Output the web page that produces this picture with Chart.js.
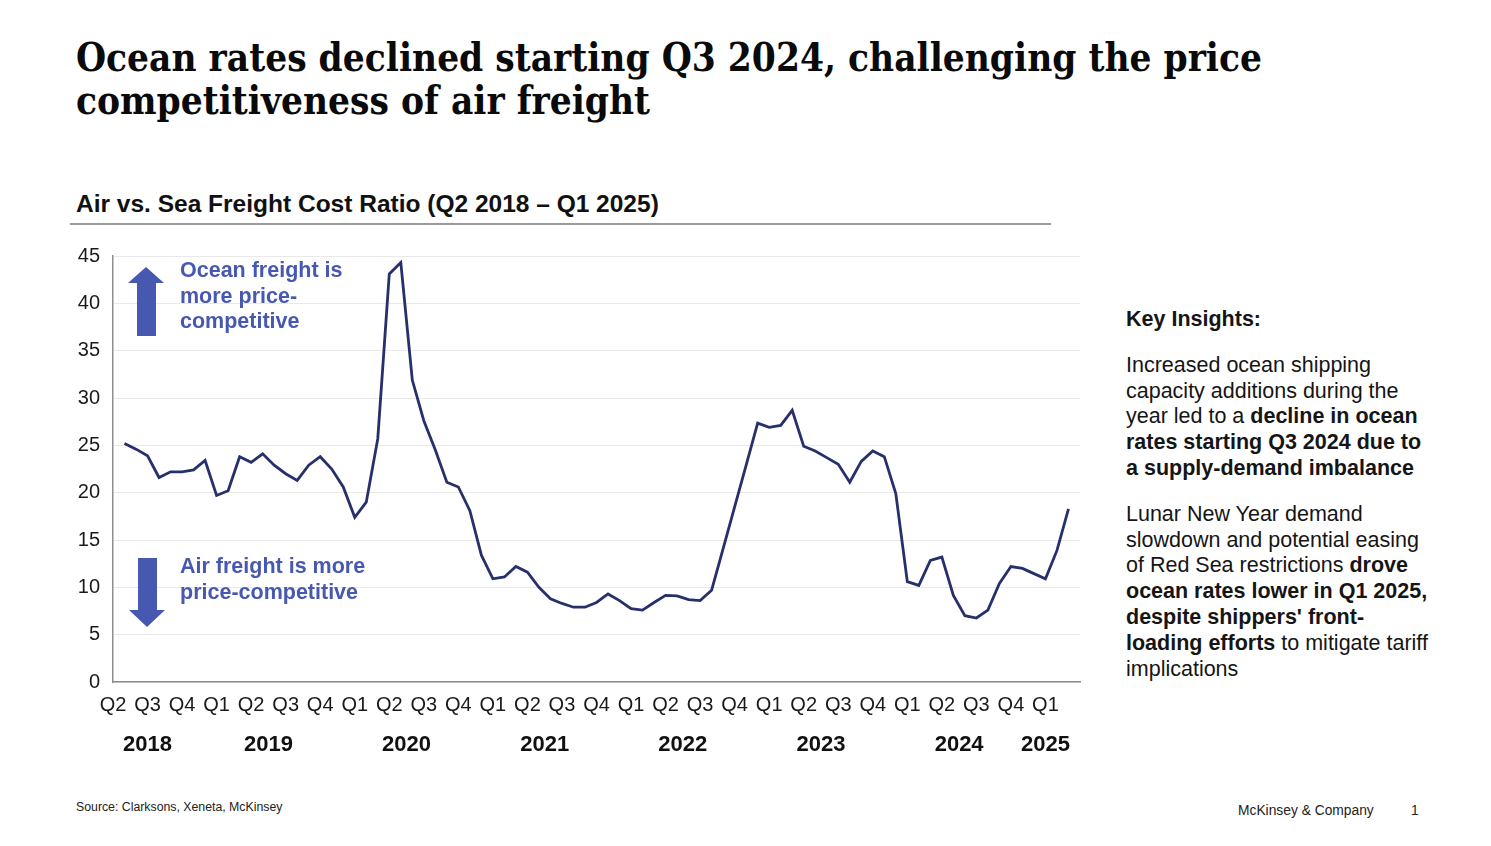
<!DOCTYPE html>
<html>
<head>
<meta charset="utf-8">
<script src="https://cdn.jsdelivr.net/npm/chart.js@4.4.1/dist/chart.umd.min.js"></script>
<style>
  body { margin: 0; background: #fff; font-family: "Liberation Sans", Arial, sans-serif; color: #111; }
  #page { position: relative; width: 1491px; height: 846px; overflow: hidden; }
  #title { position: absolute; left: 76px; top: 36px; font-family: "DejaVu Serif", Georgia, serif; font-weight: bold;
           font-size: 39px; line-height: 43px; white-space: nowrap; transform-origin: 0 0; color: #0a0a0a; }
  #subtitle { position: absolute; left: 76px; top: 190px; font-size: 24.5px; font-weight: bold; white-space: nowrap; }
  #rule { position: absolute; left: 70px; top: 223px; width: 981px; height: 2px; background: #9a9a9a; }
  #wrap { position: absolute; left: 0; top: 231px; width: 1100px; height: 549px; }
  .note { position: absolute; left: 180px; color: #4658b0; font-weight: bold; font-size: 21.5px; line-height: 25.5px; white-space: nowrap; }
  .shaft { position: absolute; background: #4658b0; }
  .head { position: absolute; width: 0; height: 0; border-left: 18.5px solid transparent; border-right: 18.5px solid transparent; }
  #insights { position: absolute; left: 1126px; top: 307px; font-size: 21.5px; line-height: 25.8px; color: #151515; white-space: nowrap; }
  #insights p { margin: 0 0 20px 0; }
  #source { position: absolute; left: 76px; top: 800px; font-size: 12.3px; color: #222; }
  #brand { position: absolute; left: 1238px; top: 803px; font-size: 13.8px; color: #222; }
  #pnum { position: absolute; left: 1411px; top: 803px; font-size: 13.8px; color: #222; }
</style>
</head>
<body>
<div id="page">
  <div id="title">Ocean rates declined starting Q3 2024, challenging the price<br>competitiveness of air freight</div>
  <div id="subtitle">Air vs. Sea Freight Cost Ratio (Q2 2018 – Q1 2025)</div>
  <div id="rule"></div>

  <div id="wrap"><canvas id="ratioChart"></canvas></div>

  <!-- up arrow + note -->
  <div class="head" style="left:128px; top:267px; border-bottom:16px solid #4658b0;"></div>
  <div class="shaft" style="left:137px; top:282px; width:19px; height:54px;"></div>
  <div class="note" style="top:258px;">Ocean freight is<br>more price-<br>competitive</div>

  <!-- down arrow + note -->
  <div class="shaft" style="left:138px; top:558px; width:19px; height:53px;"></div>
  <div class="head" style="left:129px; top:610px; border-top:17px solid #4658b0;"></div>
  <div class="note" style="top:554px;">Air freight is more<br>price-competitive</div>

  <div id="insights">
    <p style="font-weight:bold; margin-bottom:20px;">Key Insights:</p>
    <p>Increased ocean shipping<br>capacity additions during the<br>year led to a <b>decline in ocean<br>rates starting Q3 2024 due to<br>a supply-demand imbalance</b></p>
    <p>Lunar New Year demand<br>slowdown and potential easing<br>of Red Sea restrictions <b>drove<br>ocean rates lower in Q1 2025,<br>despite shippers' front-<br>loading efforts</b> to mitigate tariff<br>implications</p>
  </div>

  <div id="source">Source: Clarksons, Xeneta, McKinsey</div>
  <div id="brand">McKinsey &amp; Company</div>
  <div id="pnum">1</div>
</div>

<script>
// monthly air/sea cost ratio, Apr 2018 .. Feb 2025
const ratio = [
  25.2, 24.6, 23.9, 21.6, 22.2, 22.2, 22.4, 23.4, 19.7, 20.2,
  23.8, 23.2, 24.1, 22.9, 22.0, 21.3, 22.9, 23.8, 22.5, 20.6,
  17.4, 19.0, 25.7, 43.1, 44.3, 31.9, 27.6, 24.5, 21.1, 20.6,
  18.1, 13.4, 10.9, 11.1, 12.2, 11.6, 10.0, 8.8, 8.3, 7.9,
  7.9, 8.4, 9.3, 8.6, 7.75, 7.6, 8.4, 9.15, 9.1, 8.7,
  8.6, 9.7, 14.1, 18.5, 22.9, 27.35, 26.9, 27.1, 28.7, 24.9,
  24.4, 23.7, 23.0, 21.1, 23.3, 24.4, 23.8, 19.9, 10.6, 10.2,
  12.85, 13.2, 9.15, 7.0, 6.76, 7.6, 10.4, 12.2, 12.0, 11.45,
  10.9, 13.9, 18.3
];

const quarterLabels = [
  "Q2", "Q3", "Q4",
  "Q1", "Q2", "Q3", "Q4",
  "Q1", "Q2", "Q3", "Q4",
  "Q1", "Q2", "Q3", "Q4",
  "Q1", "Q2", "Q3", "Q4",
  "Q1", "Q2", "Q3", "Q4",
  "Q1", "Q2", "Q3", "Q4",
  "Q1"
];
const yearLabels = ["2018", "2019", "2020", "2021", "2022", "2023", "2024", "2025"];
const yTicks = [0, 5, 10, 15, 20, 25, 30, 35, 40, 45];

// quarter tick every 3 months, first one a month before the first point
const quarterPos = quarterLabels.map((q, i) => -1 + 3 * i);
// each year label sits in the middle of its quarters
const yearPos = [];
let yr = -1;
quarterLabels.forEach((q, i) => {
  if (i === 0 || q === "Q1") { yr++; yearPos[yr] = []; }
  yearPos[yr].push(quarterPos[i]);
});
const yearCenters = yearPos.map(list => list.reduce((a, b) => a + b, 0) / list.length);

const axisColor = "#8e8e8e";
const fontFamily = "'Liberation Sans', Arial, sans-serif";

new Chart("ratioChart", {
  type: "line",
  data: {
    datasets: [
      {
        label: "Air vs. Sea Freight Cost Ratio",
        data: ratio.map((v, i) => ({ x: i, y: v })),
        borderColor: "#27306b",
        borderWidth: 2.8,
        pointRadius: 0,
        fill: false,
        tension: 0
      }
    ]
  },
  options: {
    responsive: true,
    maintainAspectRatio: false,
    animation: false,
    layout: { padding: { top: 7, right: 20, bottom: 12, left: 0 } },
    plugins: {
      legend: { display: false },
      tooltip: { enabled: false }
    },
    scales: {
      x: {
        type: "linear",
        min: -1,
        max: 83,
        weight: 0,
        grid: { display: false },
        border: { display: true, color: axisColor, width: 1.5 },
        afterBuildTicks: scale => { scale.ticks = quarterPos.map(v => ({ value: v })); },
        afterFit: scale => { scale.height = 36; },
        ticks: {
          autoSkip: false,
          maxRotation: 0,
          padding: 3,
          color: "#1a1a1a",
          font: { family: fontFamily, size: 20 },
          callback: (v, i) => quarterLabels[i]
        }
      },
      x2: {
        type: "linear",
        position: "bottom",
        min: -1,
        max: 83,
        weight: 1,
        grid: { display: false },
        border: { display: false },
        afterBuildTicks: scale => { scale.ticks = yearCenters.map(v => ({ value: v })); },
        afterFit: scale => { scale.height = 50; },
        ticks: {
          autoSkip: false,
          maxRotation: 0,
          padding: 6,
          color: "#111",
          font: { family: fontFamily, size: 22, weight: "bold" },
          callback: (v, i) => yearLabels[i]
        }
      },
      y: {
        min: 0,
        max: 45,
        afterBuildTicks: scale => { scale.ticks = yTicks.map(v => ({ value: v })); },
        afterFit: scale => { scale.width = 113; },
        grid: { color: "#e9e9e9", lineWidth: 1, drawTicks: false },
        border: { display: true, color: axisColor, width: 1.5 },
        ticks: {
          padding: 13,
          color: "#1a1a1a",
          font: { family: fontFamily, size: 20 }
        }
      }
    }
  }
});

// squeeze the serif title to the width of the original first line
const title = document.getElementById("title");
const probe = document.createElement("canvas").getContext("2d");
probe.font = "bold 39px 'DejaVu Serif'";
const w = probe.measureText("Ocean rates declined starting Q3 2024, challenging the price").width;
title.style.transform = "scaleX(" + (1186 / w) + ")";
</script>
</body>
</html>
